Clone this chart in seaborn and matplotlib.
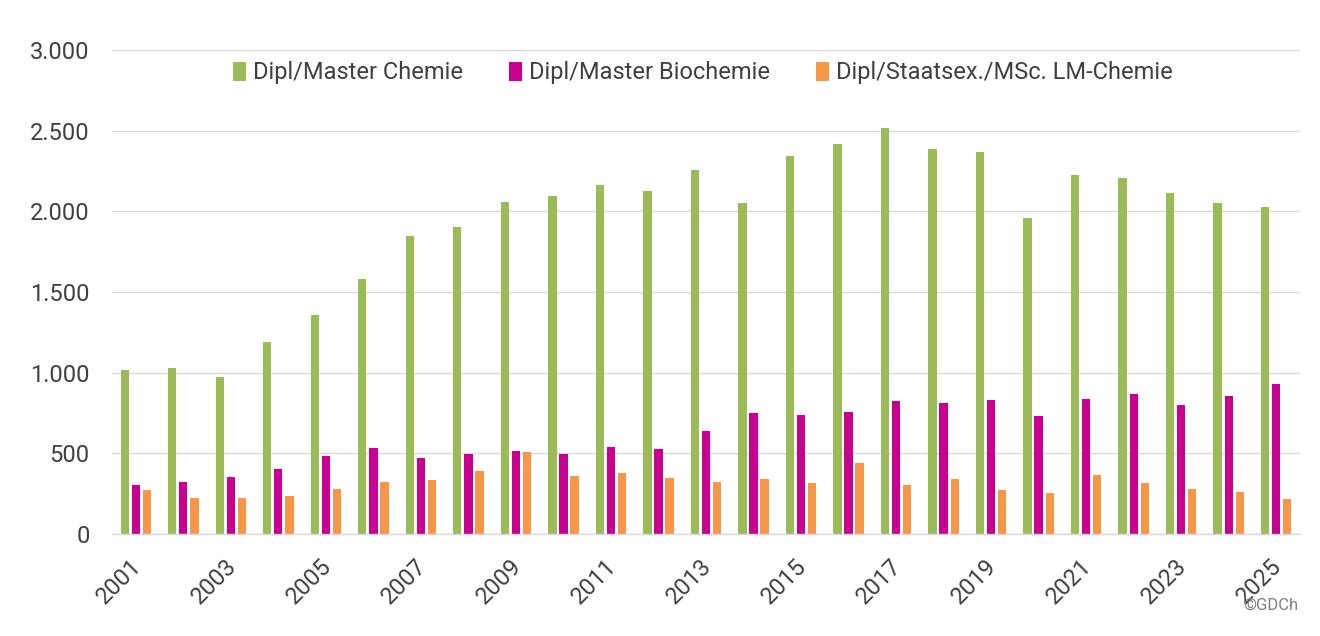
import numpy as np
import pandas as pd
import matplotlib
matplotlib.use("Agg")
import matplotlib.pyplot as plt
import matplotlib.transforms as mtransforms
import seaborn as sns

years = [str(y) for y in range(2001, 2026)]
chemie = [1016, 1027, 975, 1190, 1359, 1580, 1845, 1903, 2056, 2093, 2161, 2126, 2256,
          2052, 2341, 2419, 2514, 2386, 2368, 1961, 2225, 2208, 2114, 2052, 2029]
biochemie = [304, 320, 353, 401, 483, 531, 469, 496, 516, 496, 537, 527, 638,
             748, 738, 754, 826, 812, 829, 729, 839, 866, 801, 855, 928]
lmchemie = [275, 221, 221, 236, 281, 320, 333, 390, 506, 360, 380, 349, 322,
            343, 316, 438, 306, 343, 275, 252, 364, 316, 279, 258, 217]
series_names = ["Dipl/Master Chemie", "Dipl/Master Biochemie", "Dipl/Staatsex./MSc. LM-Chemie"]
colors = ["#9BBB59", "#C7008F", "#F79646"]
y_ticks = [0, 500, 1000, 1500, 2000, 2500, 3000]
y_labels = ["0", "500", "1.000", "1.500", "2.000", "2.500", "3.000"]

df = pd.DataFrame({
    "Jahr": years * 3,
    "Wert": chemie + biochemie + lmchemie,
    "Serie": [series_names[0]] * len(years) + [series_names[1]] * len(years) + [series_names[2]] * len(years),
})

sns.set_theme(style="white")
plt.rcParams['font.family'] = ['Roboto', 'DejaVu Sans']

fig = plt.figure(figsize=(13.2, 6.36), dpi=100)
ax = fig.add_axes([112 / 1320, 1 - 534 / 636, (1300 - 112) / 1320, (534 - 50) / 636])

sns.barplot(data=df, x="Jahr", y="Wert", hue="Serie", hue_order=series_names,
            palette=colors, width=0.70, gap=0.25, ax=ax, saturation=1,
            linewidth=0, legend=True)

ax.set_ylim(0, 3000)
ax.set_xlim(-0.5, len(years) - 0.5)
ax.set_yticks(y_ticks)
ax.set_yticklabels(y_labels, fontsize=17, color="#404040")
ax.yaxis.grid(True, color="#D9D9D9", linewidth=1.0)
ax.set_axisbelow(True)
ax.set_xlabel("")
ax.set_ylabel("")
for s in ["top", "right", "left"]:
    ax.spines[s].set_visible(False)
ax.spines["bottom"].set_color("#D9D9D9")
ax.spines["bottom"].set_linewidth(1.0)
ax.tick_params(axis="y", length=0, pad=16)

xpos = list(range(0, len(years), 2))
ax.set_xticks(xpos)
ax.set_xticklabels([years[i] for i in xpos], rotation=45, ha="right",
                   rotation_mode="anchor", fontsize=17, color="#404040")
ax.tick_params(axis="x", which="major", length=0, pad=15)
ax.set_xticks([i - 0.5 for i in range(0, len(years) + 1, 2)], minor=True)
ax.tick_params(axis="x", which="minor", length=6, color="#D9D9D9", width=1)
shift = mtransforms.ScaledTranslation(-6 / 100, 0, fig.dpi_scale_trans)
for lbl in ax.get_xticklabels():
    lbl.set_transform(lbl.get_transform() + shift)

handles, labels = ax.get_legend_handles_labels()
ax.legend(handles, labels, loc="center", bbox_to_anchor=(703 / 1320, 1 - 73 / 636),
          bbox_transform=fig.transFigure, ncol=3, frameon=False, fontsize=17,
          handlelength=0.55, handleheight=0.9, handletextpad=0.3, columnspacing=1.95,
          labelcolor="#404040")

fig.text(1298 / 1320, 1 - 605 / 636, "©GDCh", ha="right", va="center",
         fontsize=12, color="#7F7F7F")

fig.savefig("out.png", dpi=100, facecolor="white")
